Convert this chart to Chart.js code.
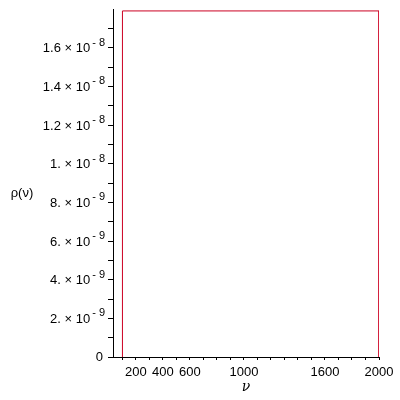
<!DOCTYPE html>
<html>
<head>
<meta charset="utf-8">
<script src="https://cdn.jsdelivr.net/npm/chart.js@4.4.0/dist/chart.umd.min.js"></script>
<style>body{margin:0;background:#fff}</style>
</head>
<body>
<canvas id="myChart" width="400" height="400"></canvas>
<script>
// curve rho(nu): jumps up near 100, runs off the top of the view, drops back at 2000
const nu = [100, 100, 2000, 2000, 2000];
const rho = [0, 1.79e-8, 1.79e-8, 8.87e-9, 0];

// tick labels as Maple prints them (mantissa x 10^exponent)
const xLabels = [200, 400, 600, 1000, 1600, 2000];
const yTickValues = [0, 2e-9, 4e-9, 6e-9, 8e-9, 1e-8, 1.2e-8, 1.4e-8, 1.6e-8];
const yMantissa = ['0', '2.', '4.', '6.', '8.', '1.', '1.2', '1.4', '1.6'];
const yExponent = ['', '-9', '-9', '-9', '-9', '-8', '-8', '-8', '-8'];

const FONT = '"Liberation Sans", Arial, sans-serif';
Chart.defaults.font.family = FONT;
Chart.defaults.font.size = 13;
Chart.defaults.color = '#000';

const ctx = document.getElementById('myChart');

// y tick labels with raised exponents + horizontal y title
const mapleLabels = {
  id: 'mapleLabels',
  afterDraw(chart) {
    const y = chart.scales.y;
    const c = chart.ctx;
    const right = y.right - 8;
    c.save();
    c.fillStyle = '#000';
    c.textBaseline = 'middle';
    for (let i = 0; i < yTickValues.length; i++) {
      const py = y.getPixelForValue(yTickValues[i]);
      if (yExponent[i] === '') {
        c.font = '13px ' + FONT;
        c.textAlign = 'right';
        c.fillText(yMantissa[i], right - 2, py);
        continue;
      }
      const exp = yExponent[i].replace('-', '- ');
      c.font = '11px ' + FONT;
      c.textAlign = 'right';
      c.fillText(exp, right, py - 5);
      const w = c.measureText(exp).width;
      c.font = '13px ' + FONT;
      c.fillText(yMantissa[i] + ' \u00d7 10', right - w - 2, py + 1);
    }
    c.font = '13px ' + FONT;
    c.textAlign = 'center';
    c.fillText('\u03c1(\u03bd)', 22, (y.top + y.bottom) / 2 + 10);
    c.restore();
  }
};

const data = {
  datasets: [{
    label: 'rho',
    data: nu.map((v, i) => ({x: v, y: rho[i]})),
    borderColor: '#cc0022',
    borderWidth: 1,
    pointRadius: 0,
    tension: 0,
    fill: false
  }]
};

const config = {
  type: 'line',
  data: data,
  plugins: [mapleLabels],
  options: {
    responsive: false,
    animation: false,
    layout: {padding: {top: 9, right: 21, left: 0, bottom: 0}},
    plugins: {legend: {display: false}, tooltip: {enabled: false}},
    scales: {
      x: {
        type: 'linear',
        min: 30,
        max: 2000,
        afterFit: s => { s.height = 43; },
        border: {color: '#000', width: 1},
        grid: {drawOnChartArea: false, tickLength: 3, tickColor: '#000'},
        ticks: {
          stepSize: 100,
          includeBounds: false,
          autoSkip: false,
          maxRotation: 0,
          padding: 5,
          callback: v => xLabels.includes(v) ? String(v) : ''
        },
        title: {
          display: true,
          text: '\u03bd',
          font: {size: 14, style: 'italic', family: '"DejaVu Serif", serif'},
          padding: {top: 0, bottom: 4}
        }
      },
      y: {
        min: 0,
        max: 1.8e-8,
        afterFit: s => { s.width = 113; },
        border: {color: '#000', width: 1},
        grid: {
          drawOnChartArea: false,
          tickLength: 5,
          tickColor: c => (c.tick && c.tick.value > 1.75e-8) ? 'rgba(0,0,0,0)' : '#000'
        },
        ticks: {stepSize: 1e-9, display: false}
      }
    }
  }
};
new Chart(ctx, config);
</script>
</body>
</html>
